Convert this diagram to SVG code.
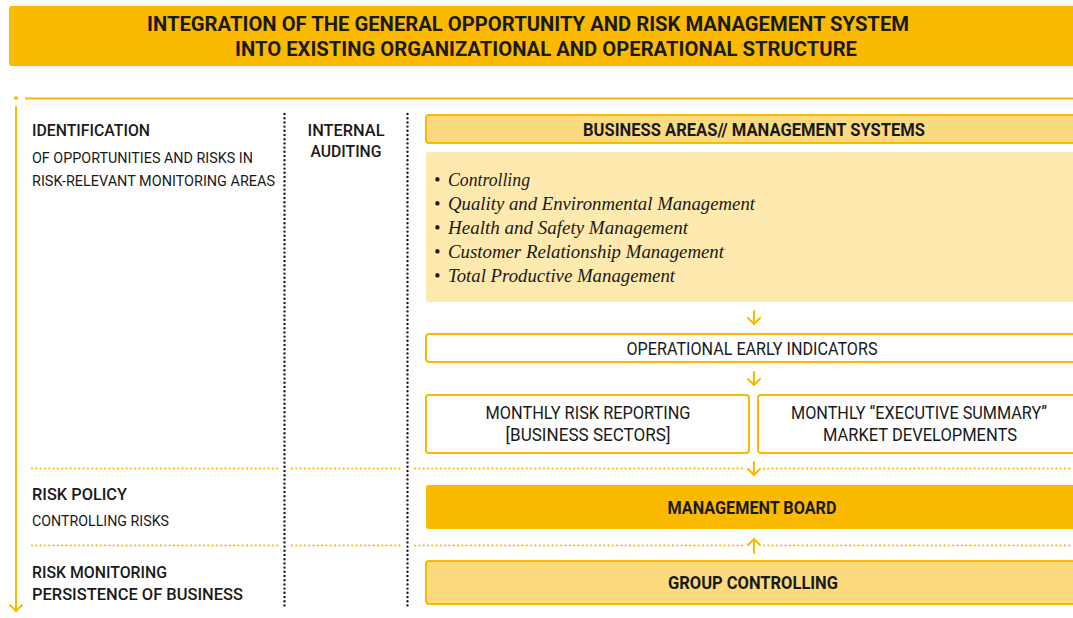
<svg xmlns="http://www.w3.org/2000/svg" width="1073" height="618" viewBox="0 0 1073 618">
  <style>
    .t { font-family: Roboto, "Liberation Sans", sans-serif; fill: #1a1a1a; }
    .head { font-size: 17px; font-weight: 500; }
    .sub { font-size: 15.5px; font-weight: 400; }
    .title { font-size: 21px; font-weight: 700; text-anchor: middle; }
    .bold { font-size: 18px; font-weight: 700; text-anchor: middle; }
    .plain { font-size: 17.5px; font-weight: 400; text-anchor: middle; }
    .item { font-family: "Liberation Serif", "DejaVu Serif", serif; font-style: italic; font-size: 18px; fill: #1a1a1a; }
    .frame { fill: #fff; stroke: #FBBA00; stroke-width: 2; }
    .light { fill: #FCDB7E; stroke: #FBBA00; stroke-width: 2; }
    .arrow { fill: none; stroke: #FBBA00; stroke-width: 2; stroke-linecap: round; stroke-linejoin: round; }
    .ydots { fill: none; stroke: #FBBA00; stroke-width: 2.2; stroke-dasharray: 0 4.3; stroke-linecap: round; }
    .kdots { fill: none; stroke: #1a1a1a; stroke-width: 2.4; stroke-dasharray: 0 4.2; stroke-linecap: round; }
  </style>

  <!-- title banner -->
  <g id="title">
    <rect x="9" y="6" width="1075" height="60" rx="3" fill="#FBBA00"/>
    <text class="t title" x="528" y="31" textLength="762" lengthAdjust="spacingAndGlyphs">INTEGRATION OF THE GENERAL OPPORTUNITY AND RISK MANAGEMENT SYSTEM</text>
    <text class="t title" x="546" y="56" textLength="622" lengthAdjust="spacingAndGlyphs">INTO EXISTING ORGANIZATIONAL AND OPERATIONAL STRUCTURE</text>
  </g>

  <!-- frame lines, dividers and flow arrows -->
  <g id="connectors">
    <circle cx="16" cy="98" r="2" fill="#FBBA00"/>
    <line x1="25" y1="98.5" x2="1073" y2="98.5" stroke="#FBBA00" stroke-width="2"/>
    <line x1="16" y1="107" x2="16" y2="611" class="arrow"/>
    <polyline points="10,605 16,611 22,605" class="arrow"/>

    <line x1="284.5" y1="114" x2="284.5" y2="606" class="kdots"/>
    <line x1="407.5" y1="114" x2="407.5" y2="606" class="kdots"/>

    <path class="ydots" d="M32 468.5H280M292 468.5H403M415 468.5H745M764 468.5H1073"/>
    <path class="ydots" d="M32 545.5H280M292 545.5H403M415 545.5H745M764 545.5H1073"/>

    <line x1="754" y1="311" x2="754" y2="324" class="arrow"/>
    <polyline points="748,318 754,324 760,318" class="arrow"/>
    <line x1="754" y1="372" x2="754" y2="385" class="arrow"/>
    <polyline points="748,379 754,385 760,379" class="arrow"/>
    <line x1="754" y1="462" x2="754" y2="475" class="arrow"/>
    <polyline points="748,469 754,475 760,469" class="arrow"/>
    <line x1="754" y1="553" x2="754" y2="539" class="arrow"/>
    <polyline points="748,545 754,539 760,545" class="arrow"/>
  </g>

  <!-- left column -->
  <g id="identification">
    <text class="t head" x="32" y="136" textLength="118" lengthAdjust="spacingAndGlyphs">IDENTIFICATION</text>
    <text class="t sub" x="32" y="163" textLength="221" lengthAdjust="spacingAndGlyphs">OF OPPORTUNITIES AND RISKS IN</text>
    <text class="t sub" x="32" y="186" textLength="243" lengthAdjust="spacingAndGlyphs">RISK-RELEVANT MONITORING AREAS</text>
  </g>
  <g id="risk-policy">
    <text class="t head" x="32" y="500" textLength="95" lengthAdjust="spacingAndGlyphs">RISK POLICY</text>
    <text class="t sub" x="32" y="526" textLength="137" lengthAdjust="spacingAndGlyphs">CONTROLLING RISKS</text>
  </g>
  <g id="risk-monitoring">
    <text class="t head" x="32" y="578" textLength="135" lengthAdjust="spacingAndGlyphs">RISK MONITORING</text>
    <text class="t head" x="32" y="600" textLength="211" lengthAdjust="spacingAndGlyphs">PERSISTENCE OF BUSINESS</text>
  </g>

  <!-- middle column -->
  <g id="internal-auditing">
    <text class="t head" x="346" y="136" text-anchor="middle" textLength="77" lengthAdjust="spacingAndGlyphs">INTERNAL</text>
    <text class="t head" x="346" y="157" text-anchor="middle" textLength="71" lengthAdjust="spacingAndGlyphs">AUDITING</text>
  </g>

  <!-- right column -->
  <g id="business-areas">
    <rect class="light" x="426" y="115" width="660" height="28" rx="3"/>
    <text class="t bold" x="754" y="135.5" textLength="342" lengthAdjust="spacingAndGlyphs">BUSINESS AREAS// MANAGEMENT SYSTEMS</text>
  </g>
  <g id="management-systems">
    <rect x="426" y="152" width="660" height="150" rx="3" fill="#FEE9AE"/>
    <text class="item" x="434" y="186">•</text>
    <text class="item" x="448" y="186" textLength="82" lengthAdjust="spacingAndGlyphs">Controlling</text>
    <text class="item" x="434" y="210">•</text>
    <text class="item" x="448" y="210" textLength="307" lengthAdjust="spacingAndGlyphs">Quality and Environmental Management</text>
    <text class="item" x="434" y="234">•</text>
    <text class="item" x="448" y="234" textLength="240" lengthAdjust="spacingAndGlyphs">Health and Safety Management</text>
    <text class="item" x="434" y="258">•</text>
    <text class="item" x="448" y="258" textLength="276" lengthAdjust="spacingAndGlyphs">Customer Relationship Management</text>
    <text class="item" x="434" y="282">•</text>
    <text class="item" x="448" y="282" textLength="227" lengthAdjust="spacingAndGlyphs">Total Productive Management</text>
  </g>
  <g id="early-indicators">
    <rect class="frame" x="426" y="334" width="660" height="28" rx="3"/>
    <text class="t plain" x="752" y="355" textLength="251" lengthAdjust="spacingAndGlyphs">OPERATIONAL EARLY INDICATORS</text>
  </g>
  <g id="risk-reporting">
    <rect class="frame" x="426" y="395" width="323" height="58" rx="3"/>
    <text class="t plain" x="588" y="419" textLength="205" lengthAdjust="spacingAndGlyphs">MONTHLY RISK REPORTING</text>
    <text class="t plain" x="588" y="441" textLength="165" lengthAdjust="spacingAndGlyphs">[BUSINESS SECTORS]</text>
  </g>
  <g id="executive-summary">
    <rect class="frame" x="758" y="395" width="330" height="58" rx="3"/>
    <text class="t plain" x="919" y="419" textLength="256" lengthAdjust="spacingAndGlyphs">MONTHLY “EXECUTIVE SUMMARY”</text>
    <text class="t plain" x="920" y="441" textLength="194" lengthAdjust="spacingAndGlyphs">MARKET DEVELOPMENTS</text>
  </g>
  <g id="management-board">
    <rect x="426" y="485" width="660" height="44" rx="3" fill="#FBBA00"/>
    <text class="t bold" x="752" y="513.5" textLength="169" lengthAdjust="spacingAndGlyphs">MANAGEMENT BOARD</text>
  </g>
  <g id="group-controlling">
    <rect class="light" x="426" y="561" width="660" height="43" rx="3"/>
    <text class="t bold" x="753" y="588.5" textLength="170" lengthAdjust="spacingAndGlyphs">GROUP CONTROLLING</text>
  </g>
</svg>
